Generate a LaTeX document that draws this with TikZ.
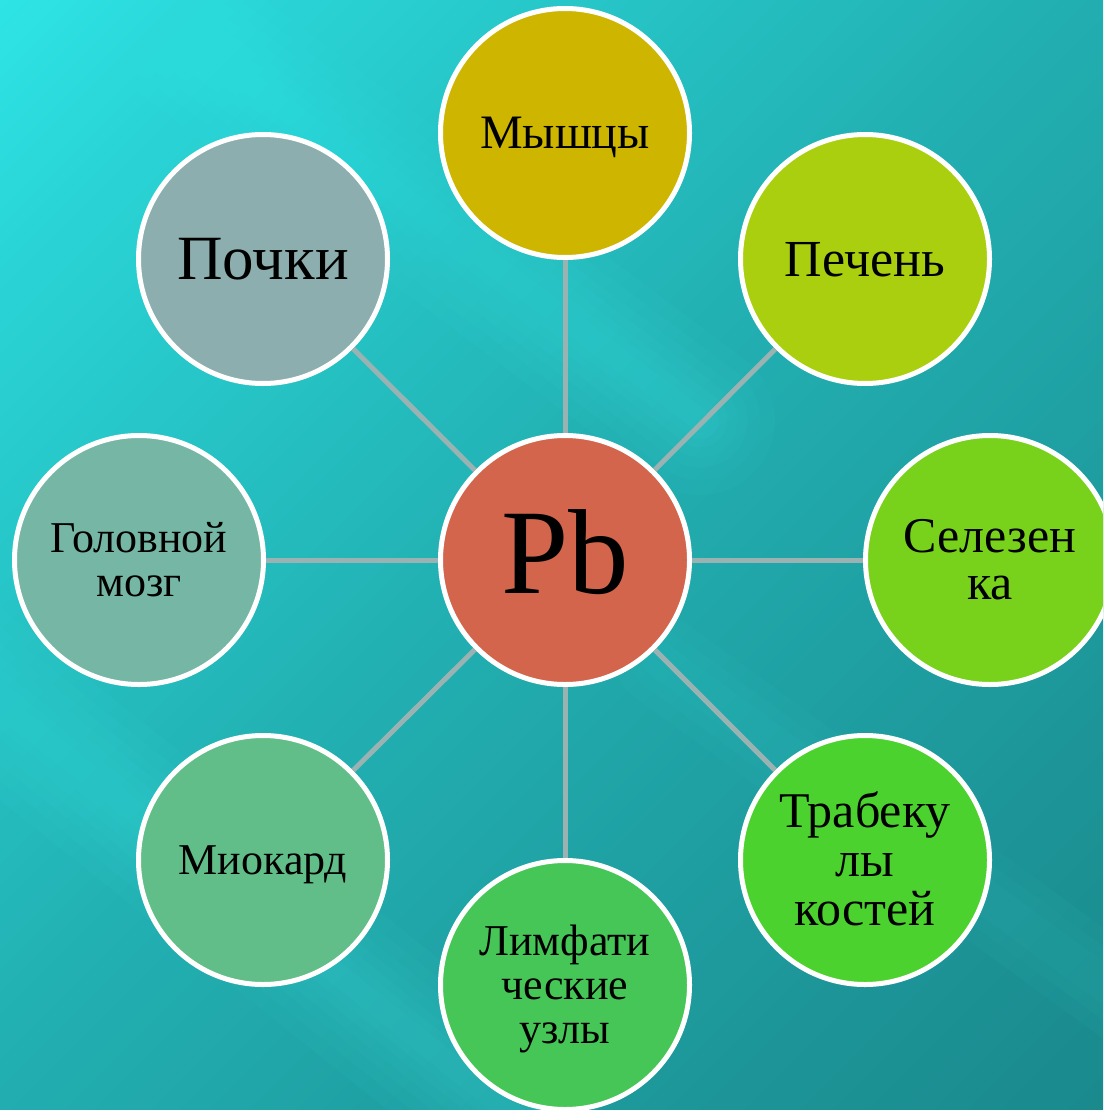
\documentclass[tikz,border=0pt]{standalone}
\usepackage{fontspec}
\setmainfont{Liberation Serif}
\definecolor{cM}{HTML}{CDB500}
\definecolor{cP}{HTML}{AACF0E}
\definecolor{cS}{HTML}{78D21C}
\definecolor{cT}{HTML}{4CD22E}
\definecolor{cL}{HTML}{46C656}
\definecolor{cMi}{HTML}{62BE88}
\definecolor{cG}{HTML}{76B6A4}
\definecolor{cPk}{HTML}{8CAEAE}
\definecolor{cPb}{HTML}{D2654C}
\definecolor{lineg}{HTML}{9AB2B2}
\definecolor{bgA}{HTML}{38FFFF}
\definecolor{bgB}{HTML}{2AD6D8}
\definecolor{bgC}{HTML}{22B0B2}
\definecolor{bgD}{HTML}{1D9699}
\definecolor{bgE}{HTML}{167C80}
\definecolor{glow}{HTML}{40F2F2}
\pgfdeclarehorizontalshading{bgsh}{100bp}{color(0bp)=(bgA); color(22bp)=(bgB); color(48bp)=(bgC); color(72bp)=(bgD); color(100bp)=(bgE)}
\tikzset{
  bub/.style={circle, draw=white, line width=5pt, minimum size=249pt, inner sep=0pt, align=center, text=black},
  conn/.style={draw=lineg, line width=5pt},
  streak/.style={draw=glow, line cap=round},
}
\begin{document}
\begin{tikzpicture}[x=1pt,y=-1pt]
  \useasboundingbox (0,0) rectangle (1103,1110);
  \begin{scope}
    \clip (0,0) rectangle (1103,1110);
    \shade[shading=bgsh, shading angle=-45] (0,0) rectangle (1103,1110);
    % soft light streaks
    \foreach \w in {150,120,95,75,55,38,22}{
      \draw[streak, line width=\w pt, opacity=0.04] (60,-60) -- (700,420);
      \draw[streak, line width=\w pt, opacity=0.04] (-80,640) -- (520,1120);
    }
    \foreach \w in {90,60,35}{
      \draw[streak, line width=\w pt, opacity=0.03] (660,660) -- (1140,1010);
    }

    \node[bub, fill=cPb, font=\fontsize{121}{121}\selectfont, text height=79pt, text depth=13pt] (pb) at (565,560) {Pb};
    \node[bub, fill=cM, font=\fontsize{48}{48}\selectfont, text height=31.4pt, text depth=0pt] (m) at (565,133) {Мышцы};
    \node[bub, fill=cP, font=\fontsize{52}{52}\selectfont, text height=34.1pt, text depth=0pt] (p) at (865,259) {Печень};
    \node[bub, fill=cS, font=\fontsize{50}{47}\selectfont, text height=79.75pt, text depth=0pt] (s) at (990,560) {Селезен\\ка};
    \node[bub, fill=cT, font=\fontsize{50}{49}\selectfont, text height=130.75pt, text depth=0pt] (t) at (865,860) {Трабеку\\лы\\костей};
    \node[bub, fill=cL, font=\fontsize{44}{44}\selectfont, text height=116.8pt, text depth=0pt] (l) at (565,985) {Лимфати\\ческие\\узлы};
    \node[bub, fill=cMi, font=\fontsize{44}{44}\selectfont, text height=28.8pt, text depth=0pt] (mi) at (263,860) {Миокард};
    \node[bub, fill=cG, font=\fontsize{44}{44}\selectfont, text height=72.8pt, text depth=0pt] (g) at (139,560) {Головной\\мозг};
    \node[bub, fill=cPk, font=\fontsize{63}{63}\selectfont, text height=41.3pt, text depth=0pt] (pk) at (263,259) {Почки};

    \foreach \n in {m,p,s,t,l,mi,g,pk}{
      \draw[conn] (pb) -- (\n);
    }
  \end{scope}
\end{tikzpicture}
\end{document}
